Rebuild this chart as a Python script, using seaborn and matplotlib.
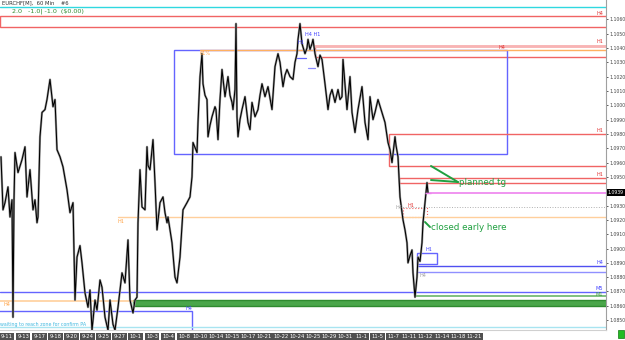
import numpy as np
import pandas as pd
import matplotlib
matplotlib.use("Agg")
import matplotlib.pyplot as plt
import seaborn as sns
from matplotlib.patches import Rectangle

# ---------------- data ----------------
# hourly bar index (EURCHF H1) and close price
bars = [2,6,10,16,20,24,26,28,30,36,44,50,54,60,66,70,74,76,80,84,90,94,100,106,110,114,120,126,134,140,146,150,154,160,164,170,176,180,184,190,194,200,204,210,216,220,226,230,236,244,250,256,260,266,270,274,276,280,284,290,294,296,300,306,310,314,320,326,330,334,336,344,350,354,360,366,374,380,384,386,394,396,400,404,406,410,414,416,420,424,430,432,436,440,444,450,456,460,464,466,470,472,474,476,480,484,490,496,500,504,510,516,520,524,530,536,544,550,556,560,566,570,574,580,586,590,594,596,600,604,610,614,616,620,624,626,630,636,640,644,650,656,660,664,670,676,680,684,686,690,694,700,704,710,716,724,730,736,740,746,750,756,764,770,776,780,784,790,792,796,800,806,810,814,816,820,824,826,830,834,836,840,844,846,850,854,856]
closes = [1.0964,1.0927,1.0932,1.0943,1.0922,1.0934,1.0852,1.0934,1.0967,1.0953,1.0962,1.0971,1.0936,1.0955,1.0927,1.0934,1.0918,1.0922,1.0978,1.0995,1.0997,1.1004,1.1018,1.0999,1.1004,1.0969,1.0964,1.0957,1.0941,1.0925,1.0932,1.0864,1.0894,1.0902,1.0890,1.0869,1.0859,1.0871,1.0843,1.0864,1.0857,1.0878,1.0873,1.0852,1.0843,1.0864,1.0847,1.0843,1.0859,1.0883,1.0876,1.0906,1.0864,1.0855,1.0864,1.0866,1.0918,1.0955,1.0929,1.0927,1.0971,1.0958,1.0955,1.0976,1.0946,1.0913,1.0932,1.0936,1.0925,1.0918,1.0922,1.0904,1.0880,1.0876,1.0894,1.0927,1.0932,1.0936,1.0950,1.0974,1.0967,1.0988,1.1020,1.1036,1.1015,1.1007,1.1004,1.0978,1.0986,1.0992,1.0999,1.0997,1.0976,1.1004,1.1025,1.1006,1.1020,1.1007,1.1002,1.0997,1.1011,1.1057,1.0992,1.0978,1.0990,1.0997,1.1006,1.0988,1.0983,1.1002,1.0992,1.0997,1.1007,1.1015,1.1006,1.1013,1.0997,1.1027,1.1036,1.1030,1.1013,1.1021,1.1025,1.1020,1.1018,1.1030,1.1036,1.1046,1.1057,1.1043,1.1036,1.1040,1.1046,1.1039,1.1043,1.1046,1.1036,1.1027,1.1035,1.1032,1.1015,1.0997,1.1007,1.1011,1.1002,1.1011,1.1004,1.1006,1.1032,1.1014,1.0997,1.1020,1.0995,1.0981,1.0997,1.1013,1.0988,1.0976,1.1006,1.0990,1.0995,1.1004,1.0995,1.0988,1.0974,1.0969,1.0960,1.0978,1.0972,1.0964,1.0936,1.0920,1.0913,1.0904,1.0890,1.0895,1.0899,1.0883,1.0866,1.0880,1.0894,1.0891,1.0904,1.0918,1.0932,1.0946,1.0939]

date_labels = ["9-11","9-13","9-17","9-18","9-20","9-24","9-25","9-27","10-1","10-3",
               "10-4","10-8","10-10","10-14","10-15","10-17","10-21","10-22","10-24","10-25",
               "10-29","10-31","11-1","11-5","11-7","11-11","11-12","11-14","11-18","11-21"]
price_ticks = [round(1.0850 + 0.001 * i, 4) for i in range(22)]
current_price = 1.0939

# zones: (bar_start, bar_end, price_low, price_high, edge colour)
zone_rects = [
    (0, 1230, 1.10546, 1.10623, "#f06464"),
    (630, 1230, 1.10336, 1.10414, "#f06464"),
    (348, 1014, 1.09659, 1.10386, "#6464ff"),
    (778, 1230, 1.09576, 1.09799, "#f06464"),
    (798, 1230, 1.09457, 1.09492, "#f06464"),
    (834, 874, 1.08892, 1.08969, "#6464ff"),
    (-4, 384, 1.08300, 1.08564, "#6464ff"),
]
# horizontal levels: (bar_start, bar_end, price, colour, width, style)
levels = [
    (0, 1230, 1.10686, "#30d8e0", 1.0, "-"),
    (400, 1230, 1.10386, "#ffb060", 1.0, "-"),
    (630, 1230, 1.10414, "#f8b4b4", 2.0, "-"),
    (594, 612, 1.10330, "#6464ff", 0.9, "-"),
    (616, 630, 1.10260, "#8c8cff", 0.9, "-"),
    (856, 1230, 1.09388, "#ee82ee", 1.2, "-"),
    (800, 1230, 1.09290, "#b0b0b0", 0.7, ":"),
    (236, 1230, 1.09220, "#ffcf9c", 1.0, "-"),
    (836, 1230, 1.08878, "#5050f0", 1.0, "-"),
    (836, 1230, 1.08836, "#9090ff", 1.0, "-"),
    (0, 1230, 1.08697, "#6464ff", 1.0, "-"),
    (830, 1230, 1.08669, "#6ab56a", 1.2, "-"),
    (0, 266, 1.08636, "#ffcf9c", 1.2, "-"),
    (0, 1230, 1.08453, "#a8e4f0", 1.0, "-"),
]
green_zone = (266, 1230, 1.08599, 1.08641)
level_labels = [  # (bar, price, text, colour, ha)
    (1206, 1.10644, "H4", "#e03030", "right"),
    (1206, 1.10442, "H1", "#e03030", "right"),
    (1010, 1.10405, "H4", "#e03030", "right"),
    (400, 1.10362, "61%", "#ffa040", "left"),
    (596, 1.10440, "H1", "#4040ff", "left"),
    (610, 1.10495, "H4 H1", "#4040ff", "left"),
    (1206, 1.09822, "H1", "#e03030", "right"),
    (1206, 1.09514, "H1", "#e03030", "right"),
    (790, 1.09285, "H4", "#a0a0a0", "left"),
    (816, 1.09300, "H1", "#e03030", "left"),
    (236, 1.09192, "H1", "#ffa040", "left"),
    (850, 1.08990, "H1", "#4040ff", "left"),
    (1206, 1.08905, "H4", "#4040ff", "right"),
    (838, 1.08810, "H4", "#a0a0a0", "left"),
    (1206, 1.08718, "M5", "#4040ff", "right"),
    (1206, 1.08678, "M1", "#3a9a3a", "right"),
    (6, 1.08610, "H4", "#ffa040", "left"),
    (370, 1.08580, "H4", "#4040ff", "left"),
]
annotations = [  # (text, text_bar, text_price, [(bar, price) line points...])
    ("planned tg", 918, 1.09464, [(862, 1.09576), (916, 1.09464), (862, 1.09478)]),
    ("closed early here", 862, 1.09150, [(850, 1.09185), (860, 1.09150)]),
]

# ---------------- figure ----------------
sns.set_style("white")
plt.rcParams["font.family"] = ["DejaVu Sans"]
fig = plt.figure(figsize=(6.25, 3.4), dpi=100)
ax = fig.add_axes([0, 10 / 340, 606 / 625, 330 / 340])
ax.set_facecolor("white")

ymin, ymax = 1.08431, 1.10735
ax.set_xlim(0, 1212)
ax.set_ylim(ymin, ymax)

# zones
for x0, x1, lo, hi, col in zone_rects:
    ax.add_patch(Rectangle((x0, lo), x1 - x0, hi - lo, fill=False, edgecolor=col, lw=1.0, zorder=2))
gx0, gx1, glo, ghi = green_zone
ax.add_patch(Rectangle((gx0, glo), gx1 - gx0, ghi - glo, facecolor="#4aa64a", edgecolor="#2f8a2f", lw=1.0, zorder=2))
ax.add_patch(Rectangle((806, 1.09220), 48, 0.00063, fill=False, edgecolor="#f06464", lw=0.8, ls=":", zorder=2))

for x0, x1, p, col, w, ls in levels:
    ax.plot([x0, x1], [p, p], color=col, lw=w, ls=ls, zorder=2)

for b, p, t, col, ha in level_labels:
    ax.text(b, p, t, color=col, fontsize=3.6, ha=ha, va="center", zorder=4)

# price line
df = pd.DataFrame({"bar": bars, "close": closes})
sns.lineplot(data=df, x="bar", y="close", ax=ax, color="#9a9a9a", lw=1.6, sort=False, estimator=None, zorder=3)
sns.lineplot(data=df, x="bar", y="close", ax=ax, color="black", lw=0.75, sort=False, estimator=None, zorder=3)
ax.plot([bars[-1]], [closes[-1]], marker="_", color="#ee82ee", ms=4, zorder=4)

# annotations
for txt, tb, tp, pts in annotations:
    xs = [q[0] for q in pts]
    ys = [q[1] for q in pts]
    if len(pts) == 3:
        ax.plot(xs[:2], ys[:2], color="#20a040", lw=1.4, zorder=5)
        ax.plot([xs[2], xs[1]], [ys[2], ys[1]], color="#20a040", lw=1.4, zorder=5)
    else:
        ax.plot(xs, ys, color="#20a040", lw=1.4, zorder=5)
    ax.text(tb, tp, txt, color="#20a040", fontsize=6.3, ha="left", va="center", zorder=5)

ax.text(0, 1.08472, "waiting to reach zone for confirm PA", color="#40b8e0", fontsize=3.4,
        ha="left", va="center", zorder=5)

# header
ax.text(4, 1.10712, "EURCHF[M],  60 Min    #6", color="#303030", fontsize=3.8, ha="left", va="center")
ax.text(24, 1.10657, "2.0   -1.0| -1.0  ($0.00)", color="#2e8b2e", fontsize=4.6, ha="left", va="center")

# axes styling
ax.yaxis.tick_right()
ax.set_yticks(price_ticks)
ax.set_yticklabels(["" if abs(t - 1.0940) < 1e-6 else f"{t:.4f}" for t in price_ticks])
ax.tick_params(axis="y", labelsize=3.3, colors="#444444", length=1.5, width=0.6, pad=1.0)
ax.text(1.003, current_price, f"{current_price:.4f}", transform=ax.get_yaxis_transform(),
        color="white", fontsize=3.3, ha="left", va="center",
        bbox=dict(facecolor="black", edgecolor="none", pad=0.8), clip_on=False)

ax.set_xticks(14 + 32.2 * np.arange(len(date_labels)))
ax.set_xticklabels(date_labels)
ax.tick_params(axis="x", labelsize=3.8, colors="#404040", length=0, pad=3)
for lbl in ax.get_xticklabels():
    lbl.set_color("white")
    lbl.set_bbox(dict(facecolor="#505050", edgecolor="none", pad=1.0))

ax.set_xlabel("")
ax.set_ylabel("")
for s in ["top", "left"]:
    ax.spines[s].set_visible(False)
ax.spines["right"].set_color("#a0a0a0")
ax.spines["right"].set_linewidth(0.8)
ax.spines["bottom"].set_color("#d0d0d0")
ax.spines["bottom"].set_linewidth(0.8)

fig.add_artist(Rectangle((618 / 625, 2 / 340), 6 / 625, 8 / 340, transform=fig.transFigure,
                         facecolor="#22bb22", edgecolor="#117711", lw=0.5))

fig.savefig("out.png", dpi=100)
